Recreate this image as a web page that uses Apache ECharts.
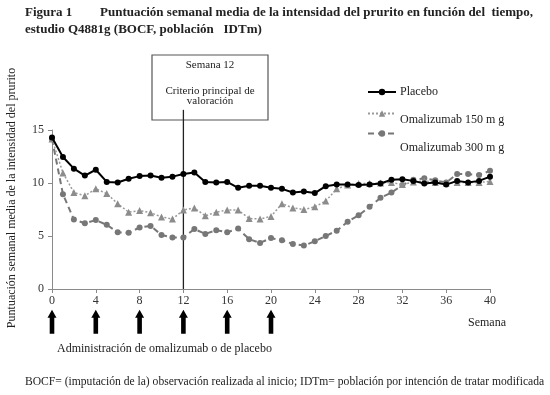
<!DOCTYPE html>
<html><head><meta charset="utf-8">
<script src="https://cdn.jsdelivr.net/npm/echarts@6/dist/echarts.min.js"></script>
<style>html,body{margin:0;padding:0;background:#fff}#c{width:550px;height:395px}</style>
</head><body><div id="c"></div>
<script>
const weeks = Array.from({length:41},(_,i)=>i);
const placebo = [14.3,12.45,11.35,10.7,11.25,10.1,10.05,10.4,10.65,10.7,10.5,10.6,10.85,11.0,10.1,10.05,10.1,9.55,9.75,9.75,9.55,9.45,9.1,9.2,9.05,9.7,9.85,9.85,9.8,9.85,9.95,10.3,10.35,10.2,9.95,10.05,9.85,10.2,10.05,10.2,10.6];
const omali150 = [14.15,10.95,9.1,8.8,9.45,9.0,8.05,7.25,7.4,7.2,6.8,6.6,7.45,7.65,6.9,7.25,7.45,7.45,6.65,6.6,6.85,8.05,7.65,7.5,7.75,8.3,9.45,9.8,9.95,9.95,10.0,10.05,9.85,10.1,10.2,10.05,10.0,10.05,10.05,10.05,10.15];
const omali300 = [14.15,8.95,6.55,6.2,6.5,6.05,5.35,5.3,5.8,5.95,5.1,4.85,4.85,5.65,5.2,5.55,5.35,5.7,4.7,4.35,4.8,4.6,4.25,4.1,4.5,5.0,5.5,6.35,6.95,7.75,8.6,9.1,9.8,10.3,10.45,10.25,10.05,10.85,10.85,10.75,11.15];
const doseWeeks = [0,4,8,12,16,20];
const week12Line = [[12,0],[12,16.9]];
const seriesNames = ['Placebo','Omalizumab 150 m g','Omalizumab 300 m g'];
const xTicks = {min:0,max:40,interval:4};
const yTicks = {min:0,max:15,interval:5};

const serif = '"Liberation Serif","DejaVu Serif",serif';
const chart = echarts.init(document.getElementById('c'), null, {renderer:'canvas'});
const pair = arr => arr.map((v,i)=>[weeks[i],v]);
const arrowPath = 'path://M4.5,0 L9,8 L6.8,8 L6.8,24 L2.2,24 L2.2,8 L0,8 Z';

const option = {
  animation:false,
  backgroundColor:'#fff',
  grid:{left:52,right:60,top:130,bottom:106,containLabel:false},
  xAxis:{type:'value',min:xTicks.min,max:xTicks.max,interval:xTicks.interval,
    axisLine:{lineStyle:{color:'#8a8a8a',width:1}},
    axisTick:{show:true,length:4,lineStyle:{color:'#8a8a8a'}},
    axisLabel:{color:'#333',fontFamily:serif,fontSize:12,margin:6},
    splitLine:{show:false}},
  yAxis:{type:'value',min:yTicks.min,max:yTicks.max,interval:yTicks.interval,
    axisLine:{show:true,lineStyle:{color:'#8a8a8a',width:1}},
    axisTick:{show:true,length:4,lineStyle:{color:'#8a8a8a'}},
    axisLabel:{color:'#333',fontFamily:serif,fontSize:12,margin:8},
    splitLine:{show:false}},
  legend:[0,1,2].map((k,i)=>({
    data:[seriesNames[k]], left:367, top:[88,109.5,129.5][i], orient:'vertical',
    itemWidth:28,itemHeight:8,padding:0,formatter:()=>'',selectedMode:false,
    textStyle:{fontSize:1}
  })),
  graphic:[
    {type:'text',left:25,top:6,style:{text:'Figura 1',font:'bold 13px '+serif,fill:'#222'}},
    {type:'text',left:100,top:6,style:{text:'Puntuación semanal media de la intensidad del prurito en función del  tiempo,',font:'bold 13px '+serif,fill:'#222'}},
    {type:'text',left:25,top:23,style:{text:'estudio Q4881g (BOCF, población   IDTm)',font:'bold 13px '+serif,fill:'#222'}},
    {type:'rect',shape:{x:152,y:55,width:116,height:65},style:{fill:'#fff',stroke:'#555',lineWidth:1.2},z:-1},
    {type:'text',x:210,y:65,style:{text:'Semana 12',font:'11px '+serif,fill:'#222',align:'center',verticalAlign:'middle'},z:2},
    {type:'text',x:210,y:91,style:{text:'Criterio principal de',font:'11px '+serif,fill:'#222',align:'center',verticalAlign:'middle'},z:2},
    {type:'text',x:210,y:101,style:{text:'valoración',font:'11px '+serif,fill:'#222',align:'center',verticalAlign:'middle'},z:2},
    {type:'text',x:400,y:92,style:{text:seriesNames[0],font:'12px '+serif,fill:'#222',verticalAlign:'middle'}},
    {type:'text',x:400,y:120,style:{text:seriesNames[1],font:'12px '+serif,fill:'#222',verticalAlign:'middle'}},
    {type:'text',x:400,y:148,style:{text:seriesNames[2],font:'12px '+serif,fill:'#222',verticalAlign:'middle'}},
    {type:'text',x:12,y:198,rotation:Math.PI/2,style:{text:'Puntuación semanal media de la intensidad del prurito',font:'12px '+serif,fill:'#222',align:'center',verticalAlign:'middle'}},
    {type:'text',x:468,y:323,style:{text:'Semana',font:'12px '+serif,fill:'#222',verticalAlign:'middle'}},
    {type:'text',x:57,y:349,style:{text:'Administración de omalizumab o de placebo',font:'12px '+serif,fill:'#222',verticalAlign:'middle'}},
    {type:'text',x:25,y:382,style:{text:'BOCF= (imputación de la) observación realizada al inicio; IDTm= población por intención de tratar modificada',font:'11.6px '+serif,fill:'#222',verticalAlign:'middle'}}
  ],
  series:[
    {name:'week12',type:'line',data:week12Line,clip:false,symbol:'none',silent:true,
      lineStyle:{color:'#222',width:1.3},z:2},
    {name:seriesNames[2],type:'line',data:pair(omali300),symbol:'circle',symbolSize:6,
      lineStyle:{color:'#777',width:2,type:[6,4]},itemStyle:{color:'#777'},z:3},
    {name:seriesNames[1],type:'line',data:pair(omali150),symbol:'triangle',symbolSize:7,
      lineStyle:{color:'#9a9a9a',width:1.5,type:[2,2]},itemStyle:{color:'#8c8c8c'},z:4},
    {name:seriesNames[0],type:'line',data:pair(placebo),symbol:'circle',symbolSize:6,
      lineStyle:{color:'#000',width:2},itemStyle:{color:'#000'},z:5},
    {name:'dose',type:'scatter',clip:false,data:doseWeeks.map(w=>[w,-3.1]),
      symbol:arrowPath,symbolSize:[9,24],itemStyle:{color:'#000',opacity:1},silent:true,z:6}
  ]
};
chart.setOption(option);
</script></body></html>
